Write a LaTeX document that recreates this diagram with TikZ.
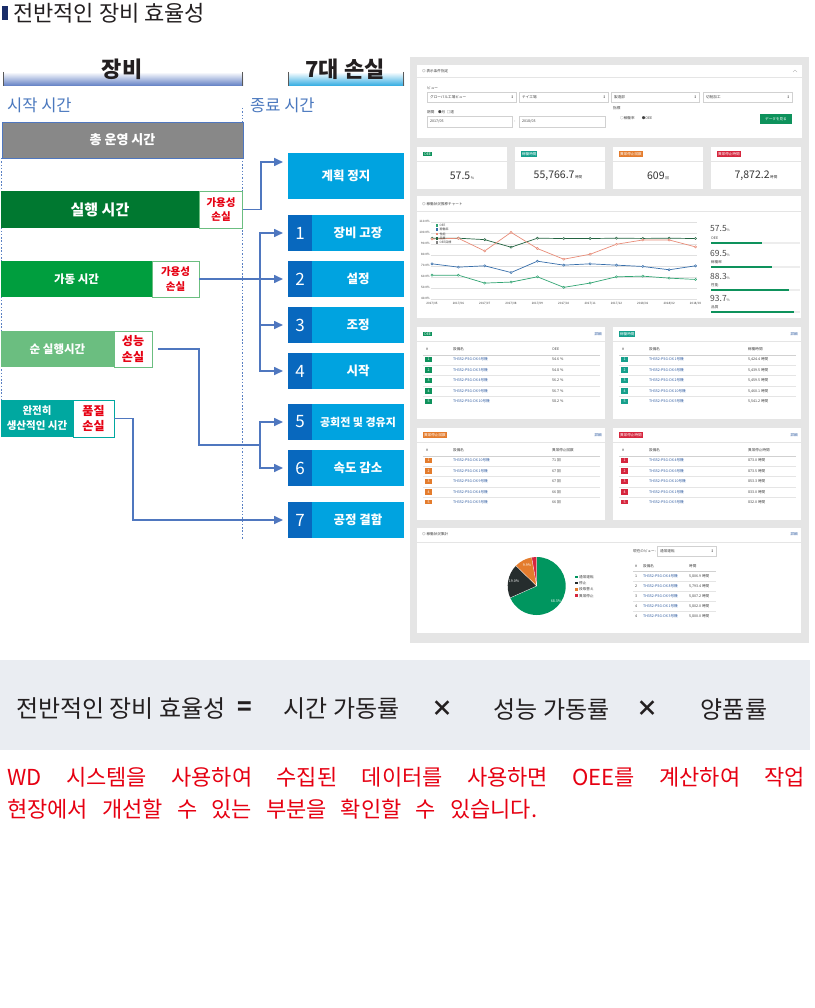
\documentclass[tikz,border=0pt]{standalone}
\usepackage{fontspec}
\setmainfont{Noto Sans CJK KR}
\newfontfamily\jp{Noto Sans CJK JP}
\newfontfamily\dvs{DejaVu Sans}
\usetikzlibrary{arrows.meta,calc}
\definecolor{txt}{RGB}{35,31,32}
\definecolor{navy}{RGB}{25,45,105}
\definecolor{cyanbox}{RGB}{0,163,224}
\definecolor{numbox}{RGB}{8,104,190}
\definecolor{connc}{RGB}{79,119,191}
\definecolor{dotc}{RGB}{90,128,195}
\definecolor{lblue}{RGB}{74,120,190}
\definecolor{grayb}{RGB}{136,136,136}
\definecolor{ga}{RGB}{0,120,48}
\definecolor{gb}{RGB}{0,158,62}
\definecolor{gc}{RGB}{107,190,128}
\definecolor{gd}{RGB}{0,168,160}
\definecolor{lossred}{RGB}{230,0,18}
\definecolor{band}{RGB}{234,237,242}
\definecolor{dbg}{RGB}{229,229,229}
\definecolor{kgreen}{RGB}{14,146,92}
\definecolor{kteal}{RGB}{22,160,140}
\definecolor{korange}{RGB}{228,124,45}
\definecolor{kred}{RGB}{214,38,62}
\definecolor{link}{RGB}{45,90,160}
\definecolor{hbarA}{RGB}{95,125,195}
\definecolor{hbarB}{RGB}{45,170,225}
\definecolor{sgreen}{RGB}{50,165,115}
\definecolor{sblue}{RGB}{55,110,170}
\definecolor{sorange}{RGB}{232,140,120}
\definecolor{sdark}{RGB}{35,100,65}
\definecolor{pgreen}{RGB}{0,150,95}
\definecolor{pdark}{RGB}{38,45,45}
\tikzset{
  lb/.style={anchor=north west, inner sep=0pt, outer sep=0pt, text=white, font=\bfseries\fontsize{11.5}{14}\selectfont, align=center},
  lossb/.style={anchor=north west, inner sep=0pt, outer sep=0pt, fill=white, text=lossred, align=center, line width=0.8pt},
  numb/.style={anchor=north west, inner sep=0pt, outer sep=0pt, fill=numbox, text=white, minimum width=24pt, minimum height=36pt, font=\fontsize{17}{17}\selectfont},
  lossname/.style={anchor=north west, inner sep=0pt, outer sep=0pt, fill=cyanbox, text=white, minimum width=92pt, minimum height=36pt, font=\bfseries\fontsize{12.5}{14}\selectfont},
  conn/.style={draw=connc, line width=1.6pt},
  arr/.style={conn, -{Triangle[length=9pt,width=8pt]}},
  tx/.style={inner sep=0pt, anchor=west, font=\jp\fontsize{3.6}{4}\selectfont, text=black!75},
  ser/.style={line width=0.7pt, mark=*, mark size=1.1pt, mark options={fill=white, line width=0.5pt}},
}
\newcommand\tpanel[7]{%
  \fill[white] (#1,#2) rectangle ++(188,92);
  \node[tx, fill=#3, text=white, inner sep=0.9pt] at (#1+6,#2+7) {#4};
  \node[tx, text=link, anchor=east] at (#1+185,#2+7) {詳細};
  \draw[black!10, line width=0.3pt] (#1,#2+14) -- ++(188,0);
  \node[tx] at (#1+9,#2+22) {\#};
  \node[tx] at (#1+36,#2+22) {設備名};
  \node[tx] at (#1+135,#2+22) {#5};
  \draw[black!18, line width=0.4pt] (#1+6,#2+28) -- ++(177,0);
  \begin{scope}
    \clip (#1,#2) rectangle ++(188,#7);
    \foreach \nm/\vl [count=\i] in {#6} {
      \pgfmathsetmacro\yy{#2+22+\i*10.5}
      \fill[#3] (#1+8,\yy-2.6) rectangle ++(7,5.2);
      \node[tx, text=white, anchor=center] at (#1+11.5,\yy) {\i};
      \node[tx, text=link] at (#1+36,\yy) {TH352-PSG-DX \nm 号機};
      \node[tx] at (#1+135,\yy) {\vl};
      \ifnum\i<5 \draw[black!10, line width=0.3pt] (#1+6,\yy+5.2) -- ++(177,0);\fi
    }
  \end{scope}
}
\begin{document}
\begin{tikzpicture}[x=1pt,y=-1pt]
\useasboundingbox (0,0) rectangle (814,1008);
\fill[white] (0,0) rectangle (814,1008);

% ---------- title ----------
\fill[navy] (2,6) rectangle (8,20);
\node[anchor=west, inner sep=0pt, font=\fontsize{22}{22}\selectfont, text=txt] (title) at (13,13) {전반적인 장비 효율성};

% ---------- header bars ----------
\shade[top color=white, bottom color=hbarA] (3,72) rectangle (243,86);
\draw[black!65, line width=0.9pt] (3.5,72) -- (3.5,86) (242.5,72) -- (242.5,86);
\node[inner sep=0pt, font=\bfseries\fontsize{22}{22}\selectfont, text=txt] (hd1) at (122,69) {장비};
\shade[top color=white, bottom color=hbarB] (288,72) rectangle (404,86);
\draw[black!65, line width=0.9pt] (288.5,72) -- (288.5,86) (403.5,72) -- (403.5,86);
\node[inner sep=0pt, font=\bfseries\fontsize{22}{22}\selectfont, text=txt] (hd2) at (345,69) {7대 손실};

\node[anchor=west, inner sep=0pt, font=\fontsize{16.5}{16.5}\selectfont, text=lblue] (st) at (7,105) {시작 시간};
\node[anchor=west, inner sep=0pt, font=\fontsize{16.5}{16.5}\selectfont, text=lblue] (et) at (250,105) {종료 시간};

% dotted guides
\draw[dotc, line width=0.8pt, dash pattern=on 1.5pt off 1.8pt] (242.7,108) -- (242.7,540);
\draw[dotc, line width=0.8pt, dash pattern=on 1.5pt off 1.8pt] (1,158) -- (1,437);

% ---------- left boxes ----------
\node[lb, fill=grayb, draw=connc, line width=0.6pt, minimum width=241pt, minimum height=36pt, font=\bfseries\fontsize{13}{14}\selectfont] (tot) at (2,122) {총 운영 시간};

\node[lb, fill=ga, minimum width=198pt, minimum height=37pt, font=\bfseries\fontsize{15}{16}\selectfont] (run) at (1,191) {실행 시간};
\node[lossb, draw=gc, minimum width=43pt, minimum height=37pt, font=\bfseries\fontsize{10.5}{14.5}\selectfont] (l1) at (199.5,191) {가용성\\손실};

\node[lb, fill=gb, minimum width=151pt, minimum height=36pt] (op) at (1,261) {가동 시간};
\node[lossb, draw=gc, minimum width=47pt, minimum height=36pt, font=\bfseries\fontsize{10.5}{14.5}\selectfont] (l2) at (152,261) {가용성\\손실};

\node[lb, fill=gc, minimum width=113pt, minimum height=36pt] (net) at (1,331) {순 실행시간};
\node[lossb, draw=gc, minimum width=38pt, minimum height=36pt, font=\bfseries\fontsize{12}{15.5}\selectfont] (l3) at (114,331) {성능\\손실};

\node[lb, fill=gd, minimum width=72pt, minimum height=37pt, font=\bfseries\fontsize{10.5}{15}\selectfont] (full) at (1,400) {완전히\\생산적인 시간};
\node[lossb, draw=gd, minimum width=41pt, minimum height=37pt, font=\bfseries\fontsize{12}{15.5}\selectfont] (l4) at (73,400) {품질\\손실};

% ---------- seven losses ----------
\node[lossname, minimum width=116pt, minimum height=46pt] (r0) at (288,153) {계획 정지};
\node[numb] (n1) at (288,215) {1};
\node[lossname] (r1) at (312,215) {장비 고장};
\node[numb] (n2) at (288,261) {2};
\node[lossname] (r2) at (312,261) {설정};
\node[numb] (n3) at (288,307) {3};
\node[lossname] (r3) at (312,307) {조정};
\node[numb] (n4) at (288,353) {4};
\node[lossname] (r4) at (312,353) {시작};
\node[numb] (n5) at (288,404) {5};
\node[lossname, font=\bfseries\fontsize{11}{12}\selectfont] (r5) at (312,404) {공회전 및 경유지};
\node[numb] (n6) at (288,450) {6};
\node[lossname] (r6) at (312,450) {속도 감소};
\node[numb] (n7) at (288,502) {7};
\node[lossname] (r7) at (312,502) {공정 결함};

% ---------- connectors ----------
\draw[arr] (l1.east) -- ++(18.5,0) |- ($(r0.north west)+(-5,9)$);
\draw[arr] (l2.east) -- ($(n2.west)+(-5,0)$);
\coordinate (bus1) at (260,279);
\draw[arr] (bus1) |- ($(n1.west)+(-5,0)$);
\draw[arr] (bus1) |- ($(n3.west)+(-5,0)$);
\draw[arr] (bus1) |- ($(n4.west)+(-5,0)$);
\coordinate (bus2) at (260,445);
\draw[conn] ($(l3.east)+(6,0)$) -- ++(41,0) |- (bus2);
\draw[arr] (bus2) |- ($(n5.west)+(-5,0)$);
\draw[arr] (bus2) |- ($(n6.west)+(-5,0)$);
\draw[arr] (l4.east) -- ++(19,0) |- ($(n7.west)+(-5,0)$);

% ---------- dashboard screenshot ----------
\fill[dbg] (410,57) rectangle (809,643);

% filter panel
\fill[white] (417,65) rectangle (802,138);
\node[tx] (p1h) at (422,71) {◎ 表示条件指定};
\draw[black!40, line width=0.3pt] (793,72) -- (795,70) -- (797,72);
\draw[black!10, line width=0.3pt] (417,77.5) -- (802,77.5);
\node[tx] at (427,88) {ビュー};
\foreach \a/\b/\t in {427/516/グローバル工場ビュー, 519/608/テイ工場, 611/699/製造部, 703/792/切削加工} {
  \draw[black!18, line width=0.3pt, fill=white] (\a,92) rectangle (\b,102);
  \node[tx] at (\a+3,97) {\t};
  \node[tx, anchor=east, font=\dvs\fontsize{3.5}{4}\selectfont] at (\b-2,97) {↕};
}
\node[tx] at (427,112) {期間\quad ●月\ \ □週};
\draw[black!18, line width=0.3pt] (427,116) rectangle (512,127);
\node[tx] at (430,121.5) {2017/05};
\node[tx] at (514,121.5) {-};
\draw[black!18, line width=0.3pt] (519,116) rectangle (605,127);
\node[tx] at (522,121.5) {2018/03};
\node[tx] at (613,108) {指標};
\node[tx] at (620,118.5) {○稼働率\qquad ●OEE};
\fill[kgreen] (760,114) rectangle (792,124);
\node[tx, text=white, anchor=center] (btn) at (776,119) {データを見る};

% KPI cards
\foreach \x/\c/\tg/\num/\u/\cx in {417/kgreen/OEE/57.5/\%/462, 515/kteal/稼働時間/{55,766.7}/時間/558, 613/korange/異常停止回数/609/回/658, 711/kred/異常停止時間/{7,872.2}/時間/756} {
  \fill[white] (\x,147) rectangle (\x+90,189);
  \draw[black!10, line width=0.3pt] (\x,161) -- (\x+90,161);
  \node[tx, fill=\c, text=white, inner sep=0.9pt] at (\x+6,154) {\tg};
  \node[inner sep=0pt, font=\fontsize{10.5}{11}\selectfont, text=black!80] at (\cx,176) {\num{\jp\fontsize{3.6}{4}\selectfont\,\u}};
}

% chart panel
\fill[white] (417,196) rectangle (801,318);
\node[tx] (p3h) at (422,204) {◎ 稼働状況推移チャート};
\draw[black!10, line width=0.3pt] (417,211) -- (801,211);
\begin{scope}[shift={(432,342.7)}, x=26.35pt, y=1.1pt]
  \foreach \v in {40,50,...,110} {
    \draw[black!12, line width=0.3pt] (-0.05,\v) -- (10.05,\v);
    \node[tx, anchor=east, font=\jp\fontsize{3}{3}\selectfont] at (-0.08,\v) {\v.0\%};
  }
  \foreach \l [count=\i from 0] in {2017/05,2017/06,2017/07,2017/08,2017/09,2017/10,2017/11,2017/12,2018/01,2018/02,2018/03} {
    \node[tx, anchor=center, font=\jp\fontsize{3}{3}\selectfont] at (\i,35.6) {\l};
  }
  \draw[ser, sdark] plot coordinates {(0,95) (1,95) (2,93.7) (3,86.8) (4,95) (5,94.7) (6,94.7) (7,95) (8,94.8) (9,95) (10,94.7)};
  \draw[ser, sorange] plot coordinates {(0,94.3) (1,94.9) (2,83.4) (3,100.3) (4,85.6) (5,75.9) (6,80.4) (7,89.5) (8,93.4) (9,93.4) (10,87.1)};
  \draw[ser, sblue] plot coordinates {(0,71.7) (1,68.7) (2,69.9) (3,63.8) (4,74.1) (5,70.5) (6,71.7) (7,70.5) (8,69.3) (9,66.3) (10,69.9)};
  \draw[ser, sgreen] plot coordinates {(0,61.4) (1,61.4) (2,54.2) (3,55.1) (4,59.9) (5,50.3) (6,54.2) (7,59.9) (8,60.5) (9,58.7) (10,57.5)};
\end{scope}
\foreach \c/\t [count=\i] in {sgreen/OEE, sblue/稼働率, sorange/性能, sdark/品質, black!50/OEE目標} {
  \pgfmathsetmacro\yy{221+\i*4.3}
  \fill[\c] (435.5,\yy-1.3) rectangle ++(2.6,2.6);
  \node[tx, font=\jp\fontsize{3}{3}\selectfont] at (439.5,\yy) {\t};
}
\foreach \y/\v/\l/\w in {229/57.5/OEE/51, 253/69.5/稼働率/61, 276/88.3/性能/78, 298/93.7/品質/83} {
  \node[anchor=west, inner sep=0pt, font=\fontsize{8.5}{9}\selectfont, text=black!70] at (710,\y) {\v{\fontsize{3.5}{4}\selectfont\%}};
  \node[tx] at (711,\y+9) {\l};
  \fill[black!7] (711,\y+13) rectangle (800,\y+15.2);
  \fill[kgreen] (711,\y+13) rectangle (711+\w,\y+15.2);
}

% table panels
\tpanel{417}{327}{kgreen}{OEE}{OEE}{6/54.6 \%, 3/54.8 \%, 4/56.2 \%, 9/56.7 \%, 10/58.2 \%}{80}
\tpanel{613}{327}{kteal}{稼働時間}{稼働時間}{1/{5,424.4 時間}, 6/{5,439.5 時間}, 2/{5,459.5 時間}, 10/{5,460.1 時間}, 5/{5,541.2 時間}}{80}
\tpanel{417}{428}{korange}{異常停止回数}{異常停止回数}{10/71 回, 1/67 回, 9/67 回, 4/66 回, 5/66 回}{75.5}
\tpanel{613}{428}{kred}{異常停止時間}{異常停止時間}{4/873.0 時間, 6/873.5 時間, 10/853.3 時間, 1/833.0 時間, 5/832.0 時間}{75.5}

% pie panel
\fill[white] (417,528) rectangle (801,633);
\node[tx] (p5h) at (422,534) {◎ 稼働状況集計};
\node[tx, text=link, anchor=east] at (798,534) {詳細};
\draw[black!10, line width=0.3pt] (417,542) -- (801,542);
\begin{scope}[shift={(536.7,586)}, yscale=-1]
  \fill[pgreen] (0,0) -- (90:29) arc[start angle=90, end angle=-155.9, radius=29] -- cycle;
  \fill[pdark] (0,0) -- (-155.9:29) arc[start angle=-155.9, end angle=-224.3, radius=29] -- cycle;
  \fill[korange] (0,0) -- (-224.3:29) arc[start angle=-224.3, end angle=-259.9, radius=29] -- cycle;
  \fill[kred] (0,0) -- (-259.9:29) arc[start angle=-259.9, end angle=-270, radius=29] -- cycle;
  \draw[white, line width=0.3pt] (0,0) -- (90:29) (0,0) -- (-155.9:29) (0,0) -- (-224.3:29) (0,0) -- (-259.9:29);
\end{scope}
\node[tx, text=white, anchor=center] at (556,601) {68.3\%};
\node[tx, text=white, anchor=center] at (514,581) {19.0\%};
\node[tx, text=white, anchor=center] at (527,565.5) {9.9\%};
\foreach \c/\t [count=\i] in {pgreen/通常運転, pdark/停止, korange/段取替え, kred/異常停止} {
  \pgfmathsetmacro\yy{570.5+\i*6.3}
  \fill[\c] (575,\yy-1.3) rectangle ++(2.6,2.6);
  \node[tx] at (579,\yy) {\t};
}
\node[tx] at (633,551) {現在のビュー:};
\draw[black!18, line width=0.3pt] (657,546.5) rectangle (716,556);
\node[tx] at (660,551.2) {通常運転};
\node[tx, anchor=east, font=\dvs\fontsize{3.5}{4}\selectfont] at (714,551.2) {↕};
\node[tx] at (635,566) {\#};
\node[tx] at (643,566) {設備名};
\node[tx] at (689,566) {時間};
\draw[black!18, line width=0.4pt] (633,571) -- (716,571);
\foreach \k/\nm/\vl [count=\i] in {1/4/{5,806.9}, 2/8/{5,793.4}, 3/9/{5,807.2}, 4/1/{5,802.0}, 4/3/{5,800.0}} {
  \pgfmathsetmacro\yy{566+\i*10}
  \node[tx] at (635,\yy) {\k};
  \node[tx, text=link] at (643,\yy) {TH352-PSG-DX \nm 号機};
  \node[tx] at (689,\yy) {\vl\ 時間};
  \ifnum\i<5 \draw[black!10, line width=0.3pt] (633,\yy+5) -- (716,\yy+5);\fi
}

% ---------- formula band ----------
\fill[band] (0,660) rectangle (810,750);
\node[anchor=west, inner sep=0pt, font=\fontsize{24}{24}\selectfont, text=txt] (f1) at (16,709) {전반적인 장비 효율성};
\node[inner sep=0pt, font=\bfseries\fontsize{24}{24}\selectfont, text=txt] (feq) at (245,709) {=};
\node[inner sep=0pt, font=\fontsize{24}{24}\selectfont, text=txt] (f2) at (341.5,709) {시간 가동률};
\node[inner sep=0pt, font=\bfseries\fontsize{22}{22}\selectfont, text=txt] (fx1) at (442.5,709) {×};
\node[inner sep=0pt, font=\fontsize{24}{24}\selectfont, text=txt] (f3) at (551.5,709) {성능 가동률};
\node[inner sep=0pt, font=\bfseries\fontsize{22}{22}\selectfont, text=txt] (fx2) at (647.5,709) {×};
\node[inner sep=0pt, font=\fontsize{24}{24}\selectfont, text=txt] (f4) at (734,709) {양품률};

% ---------- red note ----------
\node[anchor=west, inner sep=0pt, font=\fontsize{22}{22}\selectfont, text=lossred] (note1) at (7,777) {\makebox[798pt][s]{WD 시스템을 사용하여 수집된 데이터를 사용하면 OEE를 계산하여 작업}};
\node[anchor=west, inner sep=0pt, font=\fontsize{22}{22}\selectfont, text=lossred] (note2) at (7,809) {\makebox[530pt][s]{현장에서 개선할 수 있는 부분을 확인할 수 있습니다.}};
\end{tikzpicture}
\end{document}
